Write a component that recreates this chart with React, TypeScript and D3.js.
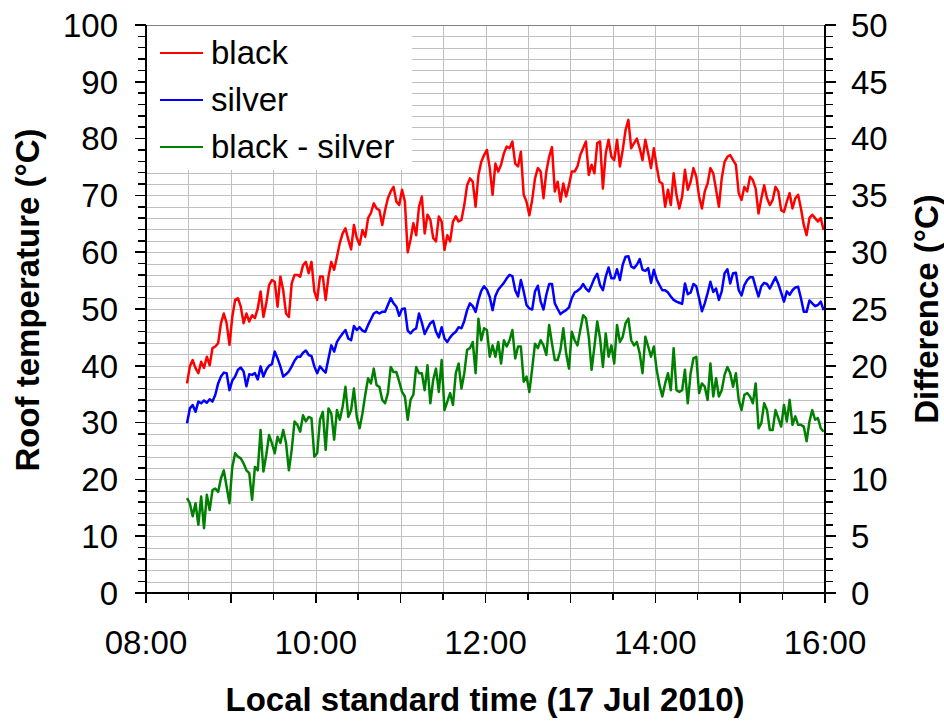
import React from "react";
import * as d3 from "d3";

// ---- data, 2-minute samples starting 08:29 ----
const sampleStart = { hour: 8, minute: 29 };
const sampleStepMin = 2;

const blackRoof: number[] = [
  36.9, 39.9, 41.0, 39.6, 38.7, 40.7, 39.6, 41.6, 40.1, 43.1,
  43.4, 44.0, 47.5, 49.2, 47.5, 43.7, 48.6, 51.6, 51.9, 50.4,
  47.5, 49.2, 47.8, 48.9, 48.4, 50.1, 53.1, 48.6, 51.0, 54.2,
  55.1, 54.8, 50.4, 55.7, 53.3, 49.2, 48.6, 54.5, 56.0, 56.0,
  55.7, 57.7, 58.3, 56.3, 58.3, 53.1, 51.6, 55.7, 55.7, 51.6,
  55.7, 58.3, 56.9, 59.2, 61.6, 63.3, 64.2, 62.2,
  60.5, 64.8, 62.5, 61.3, 63.9, 62.7, 66.0, 66.9, 68.6, 67.7,
  67.4, 64.8, 67.4, 69.5, 70.7, 71.5, 68.9, 68.3, 71.0, 68.9,
  60.0, 62.2, 65.1, 63.0, 68.0, 69.8, 63.3, 66.6, 65.7, 62.5,
  61.9, 66.3, 65.4, 60.4, 63.0, 61.9, 65.4, 66.3, 65.4, 65.7,
  68.3, 71.8, 73.0, 72.4, 68.0, 73.6, 75.9, 77.1, 78.0, 74.8,
  70.1, 75.6, 74.2, 75.4, 77.4, 78.6,
  78.3, 79.5, 75.6, 75.1, 77.7, 70.1, 68.9, 66.5, 69.2, 73.0,
  74.8, 74.2, 69.5, 74.2, 76.8, 78.5, 70.7, 72.4, 68.9, 72.1,
  69.8, 71.8, 74.2, 74.2, 75.1, 77.1, 78.3, 79.5, 73.6, 75.4,
  73.9, 79.2, 79.5, 71.2, 77.4, 79.8, 76.8, 76.2, 79.8, 75.1,
  78.0, 81.5, 83.3, 78.3, 79.2, 80.0, 78.3, 76.2, 79.8, 77.4,
  74.8, 78.3, 75.1, 72.4, 72.1, 68.0, 71.0,
  68.3, 73.9, 70.1, 67.7, 69.8, 74.5, 71.0, 72.4, 74.8, 73.3,
  69.8, 67.7, 70.7, 72.1, 74.8, 73.9, 71.0, 68.0, 73.0, 75.9,
  76.8, 77.1, 76.2, 75.4, 70.4, 69.2, 71.5, 70.7, 73.3, 72.7,
  71.2, 66.8, 69.5, 71.8, 69.5, 68.3, 69.2, 71.5, 70.7, 67.4,
  67.1, 68.9, 70.4, 67.7, 69.5, 70.1, 67.7, 64.8, 63.0, 66.0,
  66.6, 66.0, 65.4, 66.0, 63.9,
];

const silverRoof: number[] = [
  29.9, 32.5, 33.1, 31.9, 33.7, 33.4, 33.9, 33.5, 34.1, 33.7,
  34.9, 36.9, 38.1, 38.8, 38.7, 35.7, 37.4, 38.1, 39.3, 39.7,
  39.0, 36.4, 38.5, 38.4, 38.7, 37.6, 39.9, 38.1, 39.3, 40.0,
  40.3, 42.5, 41.3, 39.9, 38.1, 38.5, 39.0, 39.9, 40.9, 41.6,
  41.6, 42.3, 42.7, 41.9, 41.7, 39.9, 38.7, 39.9, 39.3, 38.8,
  41.3, 43.6, 42.5, 44.2, 45.0, 45.7, 46.3, 44.8,
  44.5, 47.0, 46.3, 46.8, 46.2, 46.0, 47.2, 48.2, 49.2, 49.5,
  49.2, 49.5, 49.5, 50.7, 51.9, 51.0, 50.4, 48.8, 50.0, 50.1,
  46.2, 45.7, 46.3, 46.6, 49.2, 47.6, 45.6, 46.6, 47.5, 47.9,
  46.0, 45.0, 46.8, 44.8, 44.2, 45.0, 45.6, 46.0, 46.8, 46.6,
  47.9, 49.8, 51.0, 50.5, 49.5, 51.6, 53.2, 54.0, 53.4, 52.1,
  49.8, 52.3, 53.4, 54.0, 54.6, 55.4,
  56.0, 55.8, 53.3, 52.2, 55.1, 53.1, 50.7, 50.1, 49.9, 53.1,
  54.1, 51.3, 49.9, 52.5, 54.4, 54.4, 51.0, 50.0, 49.1, 49.5,
  49.8, 50.3, 51.9, 52.9, 53.2, 53.6, 54.4, 53.6, 53.1, 54.2,
  55.4, 56.2, 54.2, 53.3, 55.7, 57.3, 55.4, 55.4, 57.0, 55.1,
  57.8, 59.2, 59.3, 57.5, 57.2, 57.8, 58.8, 56.9, 56.7, 57.2,
  54.6, 56.9, 55.2, 54.2, 53.3, 53.3, 52.9,
  52.2, 51.6, 51.3, 51.1, 50.9, 54.5, 52.6, 52.9, 54.4, 54.0,
  51.9, 49.6, 51.0, 52.8, 54.8, 53.0, 53.6, 51.6, 53.1, 56.3,
  57.0, 54.5, 56.3, 56.4, 53.3, 52.4, 54.2, 55.1, 55.6, 55.6,
  53.8, 52.2, 54.0, 54.6, 54.4, 53.6, 54.6, 55.6, 54.4, 52.9,
  51.3, 53.1, 52.5, 53.3, 53.8, 53.9, 51.9, 49.5, 49.5, 51.5,
  51.0, 50.5, 50.7, 51.3, 49.8,
];

// difference black - silver, right axis (°C)
const difference: number[] = [
  8.35, 7.9, 6.75, 7.9, 6.0, 8.5, 5.7, 8.65, 7.3, 9.05,
  9.2, 8.9, 10.1, 10.8, 9.35, 7.9, 11.1, 12.3, 12.0, 11.85,
  11.4, 10.8, 10.55, 8.2, 11.1, 10.8, 14.35, 10.7, 12.15, 13.9,
  13.2, 12.3, 13.75, 13.2, 14.35, 13.2, 10.8, 12.6, 15.1, 14.8,
  14.2, 15.65, 15.1, 15.5, 15.4, 12.0, 12.3, 15.25, 15.95, 12.6,
  16.25, 15.8, 13.5, 16.1, 15.25, 16.4, 18.15, 15.5,
  16.1, 18.0, 15.5, 14.5, 15.8, 17.45, 18.9, 18.45, 19.75, 18.3,
  18.15, 17.0, 16.7, 17.6, 19.9, 19.45, 19.45, 18.6, 17.7, 17.3,
  15.25, 17.0, 17.45, 19.9, 19.35, 19.35, 17.85, 20.05, 16.7, 18.75,
  19.75, 17.7, 20.5, 16.1, 16.85, 17.6, 16.55, 19.35, 20.2, 18.0,
  19.35, 21.4, 21.55, 22.1, 19.35, 24.15, 22.25, 23.3, 23.15, 20.8,
  21.8, 20.8, 22.1, 20.2, 22.25, 21.7,
  22.25, 23.15, 20.65, 21.7, 21.7, 18.6, 19.05, 17.7, 19.75, 21.95,
  21.55, 22.25, 21.8, 20.95, 23.6, 21.95, 20.5, 20.5, 21.4, 23.3,
  21.1, 19.75, 23.0, 22.25, 21.8, 23.15, 24.45, 24.2, 22.55, 19.65,
  21.7, 23.9, 22.4, 19.9, 22.85, 20.8, 21.8, 20.2, 23.6, 22.1,
  22.55, 23.75, 24.15, 22.25, 21.8, 22.1, 21.1, 19.35, 22.55, 21.7,
  20.8, 21.7, 19.65, 18.3, 17.3, 18.45, 19.35,
  17.85, 21.55, 17.85, 17.7, 17.85, 19.65, 16.7, 19.35, 20.65, 20.8,
  17.6, 18.45, 18.15, 17.0, 20.2, 17.3, 18.9, 17.3, 17.85, 19.2,
  19.9, 19.35, 18.15, 19.35, 17.0, 16.1, 17.45, 17.6, 17.3, 16.7,
  18.45, 14.5, 14.95, 16.7, 16.1, 14.35, 14.35, 16.1, 15.4, 14.65,
  16.55, 15.1, 17.0, 14.8, 15.55, 14.8, 14.8, 14.65, 13.35, 15.1,
  16.1, 15.25, 15.4, 14.5, 14.2,
];

const seriesNames = ["black", "silver", "black - silver"];
const seriesColors = ["#ff0000", "#0000ff", "#008000"];
const xLabelHours = [8, 10, 12, 14, 16];
const xTitle = "Local standard time (17 Jul 2010)";
const yLeftTitle = "Roof temperature (°C)";
const yRightTitle = "Difference (°C)";

// ---- layout ----
const W = 944;
const H = 723;
const M = { left: 146, right: 825, top: 25, bottom: 593 };
const FONT = "'Liberation Sans', Arial, sans-serif";
const FS = 33;
const GRID = "#c0c0c0";

const day = (h: number, m = 0) => new Date(2010, 6, 17, h, m);
const timeAt = (i: number) =>
  day(sampleStart.hour, sampleStart.minute + i * sampleStepMin);

export default function App() {
  const x = d3.scaleTime().domain([day(8), day(16)]).range([M.left, M.right]);
  const yL = d3.scaleLinear().domain([0, 100]).range([M.bottom, M.top]);
  const yR = d3.scaleLinear().domain([0, 50]).range([M.bottom, M.top]);
  const fmt = d3.timeFormat("%H:%M");

  const lineL = d3
    .line<number>()
    .x((_, i) => x(timeAt(i)))
    .y((d) => yL(d));
  const lineR = d3
    .line<number>()
    .x((_, i) => x(timeAt(i)))
    .y((d) => yR(d));

  const halfHours = d3.timeMinute.every(30)!.range(day(8), day(16, 1));
  const hGrid = d3.range(2, 100, 2);
  const leftMinor = d3.range(0, 101, 2);
  const leftMajor = d3.range(0, 101, 10);
  const rightMinor = d3.range(0, 51, 1);
  const rightMajor = d3.range(0, 51, 5);

  const legendY = [53, 100, 147];

  return (
    <svg
      width={W}
      height={H}
      style={{ position: "absolute", left: 0, top: 0, background: "#fff" }}
      fontFamily={FONT}
    >
      <rect x={0} y={0} width={W} height={H} fill="#fff" />
      {/* grid */}
      <g shapeRendering="crispEdges">
        {hGrid.map((v) => (
          <line key={"h" + v} x1={M.left} x2={M.right} y1={Math.round(yL(v)) + 0.5} y2={Math.round(yL(v)) + 0.5} stroke={GRID} />
        ))}
        {halfHours
          .filter((t) => +t > +day(8) && +t < +day(16))
          .map((t) => (
            <line key={"v" + +t} x1={Math.round(x(t)) + 0.5} x2={Math.round(x(t)) + 0.5} y1={M.top} y2={M.bottom} stroke={GRID} />
          ))}
        <line x1={M.left} x2={M.right} y1={M.top + 0.5} y2={M.top + 0.5} stroke="#808080" />
      </g>

      {/* legend background */}
      <rect x={M.left + 1} y={M.top + 1} width={265} height={144} fill="#fff" />

      {/* series */}
      <g fill="none" strokeWidth={2.5} strokeLinejoin="round">
        <path d={lineL(blackRoof) || ""} stroke={seriesColors[0]} />
        <path d={lineL(silverRoof) || ""} stroke={seriesColors[1]} />
        <path d={lineR(difference) || ""} stroke={seriesColors[2]} />
      </g>

      {/* legend */}
      {seriesNames.map((n, i) => (
        <g key={n}>
          <line x1={160} x2={203} y1={legendY[i]} y2={legendY[i]} stroke={seriesColors[i]} strokeWidth={2} />
          <text x={211} y={legendY[i] + 11} fontSize={FS} fill="#000">
            {n}
          </text>
        </g>
      ))}

      {/* axes */}
      <g stroke="#000" strokeWidth={1.5} shapeRendering="crispEdges">
        <line x1={M.left} x2={M.left} y1={M.top} y2={M.bottom + 10} />
        <line x1={M.right} x2={M.right} y1={M.top} y2={M.bottom + 10} />
        <line x1={M.left - 10} x2={M.right + 10} y1={M.bottom} y2={M.bottom} />
        {leftMinor.map((v) => (
          <line key={"lm" + v} x1={M.left - (v % 10 === 0 ? 11 : 8)} x2={M.left} y1={yL(v)} y2={yL(v)} />
        ))}
        {rightMinor.map((v) => (
          <line key={"rm" + v} x1={M.right} x2={M.right + (v % 5 === 0 ? 11 : 8)} y1={yR(v)} y2={yR(v)} />
        ))}
        {halfHours.map((t) => (
          <line key={"xt" + +t} x1={x(t)} x2={x(t)} y1={M.bottom} y2={M.bottom + (t.getMinutes() === 0 ? 10 : 7)} />
        ))}
      </g>

      {/* tick labels */}
      <g fontSize={FS} fill="#000">
        {leftMajor.map((v) => (
          <text key={"ll" + v} x={118} y={yL(v)} dy="0.36em" textAnchor="end">
            {v}
          </text>
        ))}
        {rightMajor.map((v) => (
          <text key={"rl" + v} x={851} y={yR(v)} dy="0.36em" textAnchor="start">
            {v}
          </text>
        ))}
        {xLabelHours.map((h) => (
          <text key={"xl" + h} x={x(day(h))} y={654} textAnchor="middle">
            {fmt(day(h))}
          </text>
        ))}
      </g>

      {/* titles */}
      <g fontSize={FS} fontWeight="bold" fill="#000">
        <text x={485} y={711} textAnchor="middle">
          {xTitle}
        </text>
        <text transform="translate(39,300) rotate(-90)" textAnchor="middle">
          {yLeftTitle}
        </text>
        <text transform="translate(938,309) rotate(-90)" textAnchor="middle">
          {yRightTitle}
        </text>
      </g>
    </svg>
  );
}
